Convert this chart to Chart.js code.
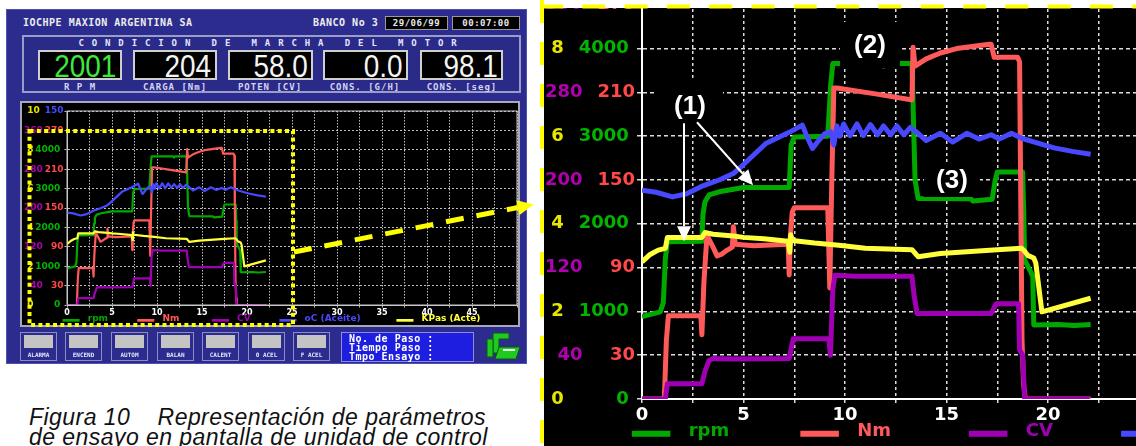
<!DOCTYPE html>
<html>
<head>
<meta charset="utf-8">
<script src="https://cdn.jsdelivr.net/npm/chart.js@4.4.1/dist/chart.umd.min.js"></script>
<style>
  body { margin: 0; background: #fff; }
  #page { position: relative; width: 1136px; height: 446px; overflow: hidden; background: #fff;
          font-family: "DejaVu Sans Mono", monospace; font-weight: bold; }
  .abs { position: absolute; }
  #screen { left: 6px; top: 9px; width: 519px; height: 353px; background: #2c2c8e; border: 1px solid #5050b0; }
  .hdr { top: 17px; font-size: 10px; letter-spacing: 0.5px; color: #ececec; line-height: 12px; }
  .tbox { top: 16px; height: 12px; background: #000; border: 1px solid #9a9a9a; color: #e8e8e8;
          font-size: 9px; line-height: 12px; text-align: center; letter-spacing: 0.5px; }
  #cond { left: 22px; top: 35px; width: 495px; height: 54px; border: 2px solid #9c9cc8; background: #2a2a88; }
  .title { left: 22px; top: 38px; width: 499px; text-align: center; font-size: 9px; letter-spacing: 7.9px;
           color: #e4e4ff; line-height: 10px; }
  .val { top: 50px; height: 30px; width: 84px; box-sizing: border-box; border: 2px solid #cfcfcf;
         background: #000; text-align: right; overflow: hidden; }
  .val span { display: inline-block; font: 31px "Liberation Sans", Arial, sans-serif; line-height: 29px;
              transform: scaleX(0.9); transform-origin: right center; padding-right: 4px; color: #f4f4f4; }
  .lab { top: 82px; width: 84px; text-align: center; font-size: 9px; letter-spacing: 1px; color: #d4d4f4; line-height: 10px; }
  #plotPanel { left: 20px; top: 101px; width: 496px; height: 222px; border: 2px solid #a8a8b8; background: #000; }
  .btn { top: 332px; width: 35px; height: 27px; border: 1px solid #8c8cc4; background: #2c2c8e; }
  .btn i { position: absolute; left: 3px; top: 2px; width: 29px; height: 13px; background: #c4c4c4; }
  .btn b { position: absolute; left: -2px; width: 39px; top: 18px; font-size: 6px; line-height: 7px; text-align: center; color: #e4e4ff; }
  #info { left: 341px; top: 332px; width: 124px; height: 27px; border: 1px solid #8c8cd8; background: #1e1ee0;
          color: #fff; font-size: 10px; line-height: 9px; letter-spacing: 0.5px; padding: 1px 0 0 7px; white-space: pre; }
  .cap { left: 29px; font: italic 23px "Liberation Sans", Arial, sans-serif; line-height: 23px; letter-spacing: 0.45px;
         color: #111; white-space: pre; }
  #zoomBox { left: 544px; top: 8px; width: 592px; height: 438px; overflow: hidden; background: #000; }
  #big { position: absolute; left: -4px; top: -67px; }
  #small { left: 22px; top: 102px; }
</style>
</head>
<body>
<div id="page">
  <div id="screen" class="abs"></div>
  <div class="abs hdr" style="left:23px">IOCHPE MAXION ARGENTINA SA</div>
  <div class="abs hdr" style="left:313px">BANCO No 3</div>
  <div class="abs tbox" style="left:385px;width:61px">29/06/99</div>
  <div class="abs tbox" style="left:452px;width:66px">00:07:00</div>

  <div id="cond" class="abs"></div>
  <div class="abs title">CONDICION DE MARCHA DEL MOTOR</div>
  <div class="abs val" style="left:38px"><span style="color:#3ee83e">2001</span></div>
  <div class="abs val" style="left:133px"><span>204</span></div>
  <div class="abs val" style="left:228px;width:85px"><span>58.0</span></div>
  <div class="abs val" style="left:323px;width:85px"><span>0.0</span></div>
  <div class="abs val" style="left:420px;width:83px"><span>98.1</span></div>
  <div class="abs lab" style="left:38px">R P M</div>
  <div class="abs lab" style="left:133px">CARGA [Nm]</div>
  <div class="abs lab" style="left:228px">POTEN [CV]</div>
  <div class="abs lab" style="left:323px">CONS. [G/H]</div>
  <div class="abs lab" style="left:420px">CONS. [seg]</div>

  <div id="plotPanel" class="abs"></div>
  <canvas id="small" class="abs" width="508" height="235"></canvas>

  <div class="abs btn" style="left:20px"><i></i><b>ALARMA</b></div>
  <div class="abs btn" style="left:65px"><i></i><b>ENCEND</b></div>
  <div class="abs btn" style="left:111px"><i></i><b>AUTOM</b></div>
  <div class="abs btn" style="left:157px"><i></i><b>BALAN</b></div>
  <div class="abs btn" style="left:202px"><i></i><b>CALENT</b></div>
  <div class="abs btn" style="left:248px"><i></i><b>0 ACEL</b></div>
  <div class="abs btn" style="left:293px"><i></i><b>F ACEL</b></div>
  <div id="info" class="abs">No. de Paso :
Tiempo Paso :
Tmpo Ensayo :</div>
  <svg class="abs" style="left:485px;top:331px" width="38" height="32">
    <path d="M8 2 H24 V8 H14 V22 H8 Z" fill="#22c822" stroke="#0a5a0a" stroke-width="1"/>
    <path d="M2 8 H8 V26 H2 Z" fill="#22c822" stroke="#0a5a0a" stroke-width="1"/>
    <path d="M14 16 H35 L31 28 H10 Z" fill="#22c822" stroke="#0a5a0a" stroke-width="1"/>
    <path d="M18 19 H30" stroke="#e8ffe8" stroke-width="2"/>
  </svg>

  <div class="abs cap" style="top:406px">Figura 10    Representación de parámetros</div>
  <div class="abs cap" style="top:426px">de ensayo en pantalla de unidad de control</div>

  <div id="zoomBox" class="abs"><canvas id="big" width="1147" height="528"></canvas></div>

  <svg class="abs" style="left:0;top:0;pointer-events:none" width="1136" height="446">
    <rect x="29.5" y="131" width="263.5" height="194" fill="none" stroke="#ffff00" stroke-width="4" stroke-dasharray="4 3.3"/>
    <line x1="294" y1="252" x2="518" y2="207.5" stroke="#ffff00" stroke-width="5" stroke-dasharray="18 13"/>
    <polygon points="533.7,204.4 516.5,200.2 519.5,214.9" fill="#ffff00"/>
    <line x1="542" y1="0" x2="542" y2="446" stroke="#ffff00" stroke-width="4" stroke-dasharray="23 19"/>
    <line x1="540" y1="6.5" x2="1136" y2="6.5" stroke="#ffff00" stroke-width="4" stroke-dasharray="23 19.3"/>
  </svg>
</div>

<script>
// trace of the test: time in seconds, one pair of arrays per channel
const rpmT = [0, 0.9, 1.05, 1.15, 1.25, 2.95, 3.0, 3.1, 3.3, 3.8, 4.5, 5.0, 7.25, 7.35, 7.5, 9.15, 9.3, 9.4,
              11.8, 11.9, 12.0, 13.3, 13.45, 13.6, 16.2, 16.3, 17.25, 17.4, 17.5, 18.75, 18.8, 18.85, 19.15,
              19.25, 19.3, 20.5, 21.3, 22.1];
const rpmV = [940, 995, 1100, 1600, 1795, 1800, 2100, 2250, 2330, 2365, 2395, 2414, 2415, 2900, 2990, 3000, 3600, 3830,
              3830, 3800, 3830, 3830, 2500, 2290, 2285, 2260, 2280, 2500, 2590, 2590, 2175, 1585, 1450,
              1400, 844, 850, 838, 850];

const nmT = [0, 1.1, 1.2, 1.3, 2.9, 2.95, 3.05, 3.2, 3.5, 3.7, 3.9, 4.2, 4.45, 4.5, 4.6, 5.5, 7.2, 7.25, 7.3, 7.4,
             7.5, 9.15, 9.25, 9.35, 9.45, 9.6, 11.5, 13.25, 13.3, 13.35, 13.45, 14.0, 14.7, 15.5, 17.1, 17.2,
             17.35, 18.5, 18.6, 18.65, 18.72, 18.8, 18.88, 22.1];
const nmV = [0, 0, 40, 57, 57, 44, 80, 112, 104, 98, 99, 102, 104, 118, 106, 105, 106, 85, 110, 128,
             131, 131, 76, 150, 213, 213, 209, 205, 205, 241, 228, 233, 237, 240, 243, 243,
             234, 234, 231, 150, 40, 10, 0, 0];

const cvT = [0, 1.15, 1.25, 2.95, 3.1, 3.3, 3.5, 4.5, 7.25, 7.35, 7.45, 9.2, 9.28, 9.4, 9.5, 10.5, 13.3, 13.4,
             13.55, 17.2, 17.3, 17.45, 18.55, 18.6, 18.75, 18.85, 22.05];
const cvV = [0, 0, 14, 14, 25, 35, 37, 36.5, 37, 46, 55, 55, 40, 100, 113, 112, 112, 95,
             78, 78, 82, 87, 87, 45, 40, 0, 0];

const oilT = [0, 0.7, 1.5, 2.2, 3.0, 3.8, 4.5, 5.0, 6.1, 7.3, 7.9, 8.15, 8.4, 8.7, 9.0, 9.3, 9.45, 9.6, 9.75,
              9.93, 10.25, 10.59, 10.9, 11.25, 11.6, 11.9, 12.25, 12.56, 12.9, 13.22, 13.6, 14.0, 14.7, 15.3,
              16.0, 16.6, 17.2, 17.6, 18.2, 18.7, 19.5, 20.3, 21.2, 22.1];
const oilV = [71.5, 70.8, 69.2, 70.3, 73.0, 75.0, 77.2, 80.3, 87.5, 91.5, 93.8, 89.5, 85.8, 88.5, 90.9, 91.5, 87.0, 93.5, 90.0,
              94.2, 90.2, 94.2, 90.2, 94.0, 90.5, 93.5, 90.5, 93.5, 90.5, 93.0, 91.0, 88.5, 91.0, 88.0,
              91.0, 89.0, 90.5, 89.0, 91.0, 89.3, 87.6, 86.0, 84.8, 83.8];

const kpaT = [0, 0.4, 0.8, 1.15, 1.25, 2.95, 3.1, 3.5, 4.5, 5.0, 6.0, 7.2, 7.28, 7.33, 7.4, 8.5, 9.7, 11.0, 13.3,
              13.6, 14.7, 17.5, 18.7, 18.8, 19.0, 19.3, 19.4, 19.7, 22.1];
const kpaV = [3.13, 3.30, 3.40, 3.44, 3.69, 3.69, 3.80, 3.76, 3.72, 3.69, 3.66, 3.60, 3.35, 3.75, 3.62, 3.56, 3.51, 3.44, 3.41,
              3.25, 3.32, 3.41, 3.44, 3.40, 3.28, 3.22, 3.10, 1.99, 2.30];

const seriesNames = ['rpm', 'Nm', 'CV', 'oC (Aceite)', 'KPas (Acte)'];
const seriesColors = ['#00a800', '#ff5a5a', '#a000b4', '#4848ff', '#ffff3c'];
const axisMax = [5000, 300, 400, 150, 10];      // full scale of each channel
const legendAt = [-0.5, 7.8, 16.1, 23.6, 36.6];  // legend slots, in seconds

const labelColors = { green: '#00b400', red: '#ff4848', yellow: '#e6e600', purple: '#b000b0', blue: '#4848ff' };
const FIG = '\u2007'; // digit-wide space

// labels, arrows and legend drawn on top of the plot
const deco = {
  id: 'deco',
  afterDraw(chart, args, o) {
    const { ctx, chartArea: a, scales: { x, y } } = chart;
    ctx.save();
    if (o.frame) {
      ctx.strokeStyle = o.frame;
      ctx.lineWidth = 1;
      ctx.strokeRect(a.left, a.top, a.width, a.height);
    }
    const ly = y.getPixelForValue(-396);
    const ty = y.getPixelForValue(-419);
    ctx.font = 'bold ' + o.legFont + 'px "DejaVu Sans"';
    ctx.textBaseline = 'alphabetic';
    chart.data.datasets.forEach((ds, i) => {
      ctx.strokeStyle = ds.borderColor;
      ctx.lineWidth = o.legLine;
      ctx.beginPath();
      ctx.moveTo(x.getPixelForValue(legendAt[i]), ly);
      ctx.lineTo(x.getPixelForValue(legendAt[i] + 1.9), ly);
      ctx.stroke();
      ctx.fillStyle = ds.borderColor;
      ctx.fillText(ds.label, x.getPixelForValue(legendAt[i] + 2.8), ty);
    });
    if (o.notes) {
      ctx.font = 'bold 26px "Liberation Sans", Arial';
      ctx.textAlign = 'center';
      ctx.textBaseline = 'middle';
      o.notes.forEach(([txt, t, v, w, h]) => {
        const px = x.getPixelForValue(t), py = y.getPixelForValue(v);
        ctx.fillStyle = '#000';
        ctx.fillRect(px - w / 2, py - h / 2, w, h);
        ctx.fillStyle = '#fff';
        ctx.fillText(txt, px, py + 1);
      });
      ctx.strokeStyle = '#fff';
      ctx.fillStyle = '#fff';
      ctx.lineWidth = 2;
      o.arrows.forEach(([t0, v0, t1, v1]) => {
        const x0 = x.getPixelForValue(t0), y0 = y.getPixelForValue(v0);
        const x1 = x.getPixelForValue(t1), y1 = y.getPixelForValue(v1);
        const ang = Math.atan2(y1 - y0, x1 - x0);
        const bx = x1 - 15 * Math.cos(ang), by = y1 - 15 * Math.sin(ang);
        ctx.beginPath();
        ctx.moveTo(x0, y0);
        ctx.lineTo(bx, by);
        ctx.stroke();
        ctx.beginPath();
        ctx.moveTo(x1, y1);
        ctx.lineTo(bx + 7 * Math.sin(ang), by - 7 * Math.cos(ang));
        ctx.lineTo(bx - 7 * Math.sin(ang), by + 7 * Math.cos(ang));
        ctx.closePath();
        ctx.fill();
      });
    }
    ctx.restore();
  }
};

function makeChart(id, P) {
  const axisIds = ['y', 'yNm', 'yCV', 'yOil', 'yKpa'];
  const sets = [[rpmT, rpmV], [nmT, nmV], [cvT, cvV], [oilT, oilV], [kpaT, kpaV]];
  const datasets = sets.map(([t, v], i) => ({
    label: seriesNames[i],
    data: t.map((tt, k) => ({ x: tt, y: v[k] })),
    yAxisID: axisIds[i],
    borderColor: seriesColors[i],
    borderWidth: P.line,
    pointRadius: 0,
    tension: 0,
    borderJoinStyle: 'round',
    order: 5 - i
  }));

  const tickFont = { family: 'DejaVu Sans', size: P.tickFont, weight: 'bold' };
  const scales = {
    x: {
      type: 'linear', min: 0, max: 50,
      ticks: {
        stepSize: 2.5, autoSkip: false, maxRotation: 0, padding: 0, color: '#fff',
        font: { family: 'DejaVu Sans', size: P.xFont, weight: 'bold' },
        callback: v => (v % 5 === 0 && v < 50) ? String(v) : ''
      },
      grid: { color: P.gridColor, lineWidth: P.grid, tickLength: P.xTick, tickBorderDash: P.vDash },
      border: { display: true, color: P.axisColor, width: P.axisW, dash: P.vDash },
      afterFit: s => { s.height = P.xH; }
    },
    // inner column: rpm (green) and Nm (red), blue oC at the top
    y: {
      type: 'linear', min: 0, max: axisMax[0], weight: 1,
      ticks: {
        stepSize: 500, padding: P.yPad, font: tickFont,
        callback: v => v === axisMax[0] ? String(axisMax[3])
          : v % 1000 === 0 ? v + ' ' : String(v * axisMax[1] / axisMax[0]),
        color: c => c.tick.value === axisMax[0] ? labelColors.blue
          : c.tick.value % 1000 === 0 ? labelColors.green : labelColors.red
      },
      grid: { color: P.gridColor, lineWidth: P.grid, tickLength: P.yTick, tickBorderDash: P.hDash },
      border: { display: true, color: P.axisColor, width: P.axisW, dash: P.hDash },
      afterFit: s => { s.width = P.innerW; }
    },
    // outer column: KPas (yellow) and CV (purple), left aligned
    yOut: {
      type: 'linear', min: 0, max: axisMax[0], position: 'left', weight: 2,
      ticks: {
        stepSize: 500, mirror: true, padding: 0, font: tickFont,
        callback: v => v % 1000 === 0 ? ' ' + (v * axisMax[4] / axisMax[0])
          : String(v * axisMax[2] / axisMax[0]).padStart(3, FIG),
        color: c => c.tick.value % 1000 === 0 ? labelColors.yellow : labelColors.purple
      },
      grid: { display: false, drawTicks: false },
      border: { display: false },
      afterFit: s => { s.width = 0; }
    }
  };
  axisIds.slice(1).forEach((a, i) => {
    scales[a] = { type: 'linear', display: false, min: 0, max: axisMax[i + 1] };
  });

  return new Chart(document.getElementById(id), {
    type: 'line',
    data: { datasets },
    options: {
      responsive: false,
      animation: false,
      events: [],
      layout: { padding: { left: P.padL, top: P.padT, right: P.padR, bottom: P.padB } },
      scales,
      plugins: {
        legend: { display: false },
        tooltip: { enabled: false },
        deco: P.deco
      }
    },
    plugins: [deco]
  });
}

makeChart('small', {
  padL: 2, innerW: 43, padT: 9, padR: 13, padB: 14, xH: 18,
  tickFont: 9, xFont: 8, line: 2.2, grid: 1, yTick: 2.5, xTick: 2.7, yPad: 1,
  hDash: [2, 2], vDash: [1.5, 1.5], gridColor: '#bdbdbd', axisColor: '#c8c8c8', axisW: 1,
  deco: { legFont: 9, legLine: 2.7, frame: '#c8c8c8' }
});

makeChart('big', {
  padL: 5, innerW: 97, padT: 20, padR: 30, padB: 30, xH: 40,
  tickFont: 18, xFont: 18, line: 5, grid: 1.5, yTick: 5, xTick: 6, yPad: 2,
  hDash: [4, 3], vDash: [3, 3], gridColor: '#dcdcdc', axisColor: '#ffffff', axisW: 2,
  deco: {
    legFont: 18, legLine: 6, frame: null,
    notes: [['(1)', 2.36, 3345, 66, 50], ['(2)', 11.23, 4041, 60, 46], ['(3)', 15.27, 2500, 56, 34]],
    arrows: [[2.07, 3148, 2.07, 1802], [2.71, 3159, 5.47, 2441]]
  }
});
</script>
</body>
</html>
